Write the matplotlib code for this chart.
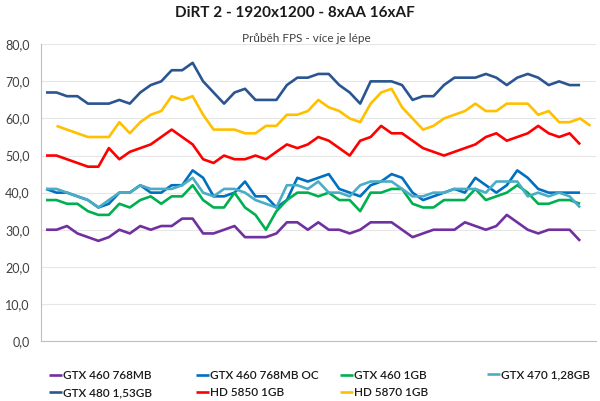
import matplotlib
matplotlib.use("Agg")
import matplotlib.pyplot as plt
import numpy as np

plt.rcParams['font.family'] = ['Lato', 'DejaVu Sans']

# FPS samples (index = sample number)
gtx460_768 = [30, 30, 31, 29, 28, 27, 28, 30, 29, 31, 30, 31, 31, 33, 33, 29, 29, 30, 31, 28,
              28, 28, 29, 32, 32, 30, 32, 30, 30, 29, 30, 32, 32, 32, 30, 28, 29, 30, 30, 30,
              32, 31, 30, 31, 34, 32, 30, 29, 30, 30, 30, 27]
gtx460_768_oc = [41, 40, 40, 39, 38, 36, 37, 40, 40, 42, 40, 40, 42, 42, 46, 44, 39, 39, 40, 43,
                 39, 39, 36, 38, 44, 43, 44, 45, 41, 40, 39, 42, 43, 45, 44, 40, 38, 39, 40, 41,
                 40, 44, 42, 40, 42, 46, 44, 41, 40, 40, 40, 40]
gtx460_1gb = [38, 38, 37, 37, 35, 34, 34, 37, 36, 38, 39, 37, 39, 39, 42, 38, 36, 36, 40, 36,
              34, 30, 35, 38, 40, 40, 39, 40, 38, 38, 35, 40, 40, 41, 41, 37, 36, 36, 38, 38,
              38, 41, 38, 39, 40, 42, 40, 37, 37, 38, 38, 37]
gtx470 = [41, 41, 40, 39, 38, 36, 38, 40, 40, 42, 41, 41, 41, 42, 44, 40, 39, 41, 41, 40,
          38, 37, 36, 42, 42, 41, 43, 40, 40, 39, 42, 43, 43, 43, 41, 39, 39, 40, 40, 41,
          41, 41, 40, 43, 43, 43, 39, 40, 39, 40, 39, 36]
gtx480 = [67, 67, 66, 66, 64, 64, 64, 65, 64, 67, 69, 70, 73, 73, 75, 70, 67, 64, 67, 68,
          65, 65, 65, 69, 71, 71, 72, 72, 69, 67, 64, 70, 70, 70, 69, 65, 66, 66, 69, 71,
          71, 71, 72, 71, 69, 71, 72, 71, 69, 70, 69, 69]
hd5850 = [50, 50, 49, 48, 47, 47, 52, 49, 51, 52, 53, 55, 57, 55, 53, 49, 48, 50, 49, 49,
          50, 49, 51, 53, 52, 53, 55, 54, 52, 50, 54, 55, 58, 56, 56, 54, 52, 51, 50, 51,
          52, 53, 55, 56, 54, 55, 56, 58, 56, 55, 56, 53]
# HD 5870 starts one sample later
hd5870 = [np.nan, 58, 57, 56, 55, 55, 55, 59, 56, 59, 61, 62, 66, 65, 66, 61, 57, 57, 57, 56,
          56, 58, 58, 61, 61, 62, 65, 63, 62, 60, 59, 64, 67, 68, 63, 60, 57, 58, 60, 61,
          62, 64, 62, 62, 64, 64, 64, 61, 62, 59, 59, 60, 58]

series = [
    ("GTX 460 768MB", gtx460_768, "#7030A0"),
    ("GTX 460 768MB OC", gtx460_768_oc, "#0070C0"),
    ("GTX 460 1GB", gtx460_1gb, "#00B050"),
    ("GTX 470 1,28GB", gtx470, "#4BACC6"),
    ("GTX 480 1,53GB", gtx480, "#2A5590"),
    ("HD 5850 1GB", hd5850, "#FF0000"),
    ("HD 5870 1GB", hd5870, "#FFC000"),
]
n_cat = 53

fig = plt.figure(figsize=(6, 4.01), dpi=100)
ax = fig.add_axes([0.068, 0.1496, 0.925, 0.74])

lines = []
for name, vals, col in series:
    l, = ax.plot(np.arange(len(vals)), vals, color=col, lw=1.9, label=name,
                 solid_joinstyle='round', solid_capstyle='butt')
    lines.append(l)

ax.set_xlim(-0.5, n_cat - 0.5)
ax.set_ylim(0, 80)
ax.set_yticks(np.arange(0, 81, 10))
ax.set_yticklabels([f"{v:.1f}".replace(".", ",") for v in np.arange(0, 81, 10)])
ax.set_xticks([])
ax.tick_params(axis='y', length=0, labelsize=9, labelcolor='#404040', pad=8)
ax.grid(axis='y', color='#E6E6E6', lw=0.8)
ax.set_axisbelow(True)
for s in ['top', 'right']:
    ax.spines[s].set_visible(False)
ax.spines['left'].set_color('#BFBFBF')
ax.spines['bottom'].set_color('#BFBFBF')

fig.text(0.492, 0.968, "DiRT 2 - 1920x1200 - 8xAA 16xAF", ha='center', va='center',
         fontsize=11, fontweight='bold', color='#1A1A1A')
ax.text(0.478, 1.02, "Průběh FPS - více je lépe", transform=ax.transAxes,
        ha='center', va='center', fontsize=8.5, color='#404040')

# legend laid out like Excel: equal-width columns, filled row by row
cols = [[0, 4], [1, 5], [2, 6], [3]]
col_x = [49, 196, 340, 487]
col_top = [370, 370, 370, 369]
for idx, x0, y0 in zip(cols, col_x, col_top):
    fig.legend([lines[i] for i in idx], [series[i][0] for i in idx],
               loc='upper left', bbox_to_anchor=(x0 / 600, 1 - y0 / 401),
               frameon=False, fontsize=8.5, handlelength=1.1, handletextpad=0.1,
               borderpad=0, borderaxespad=0, labelspacing=0.5,
               prop={'size': 8.5, 'weight': 'semibold'}, labelcolor='#1A1A1A')

fig.savefig("out.png", dpi=100)
